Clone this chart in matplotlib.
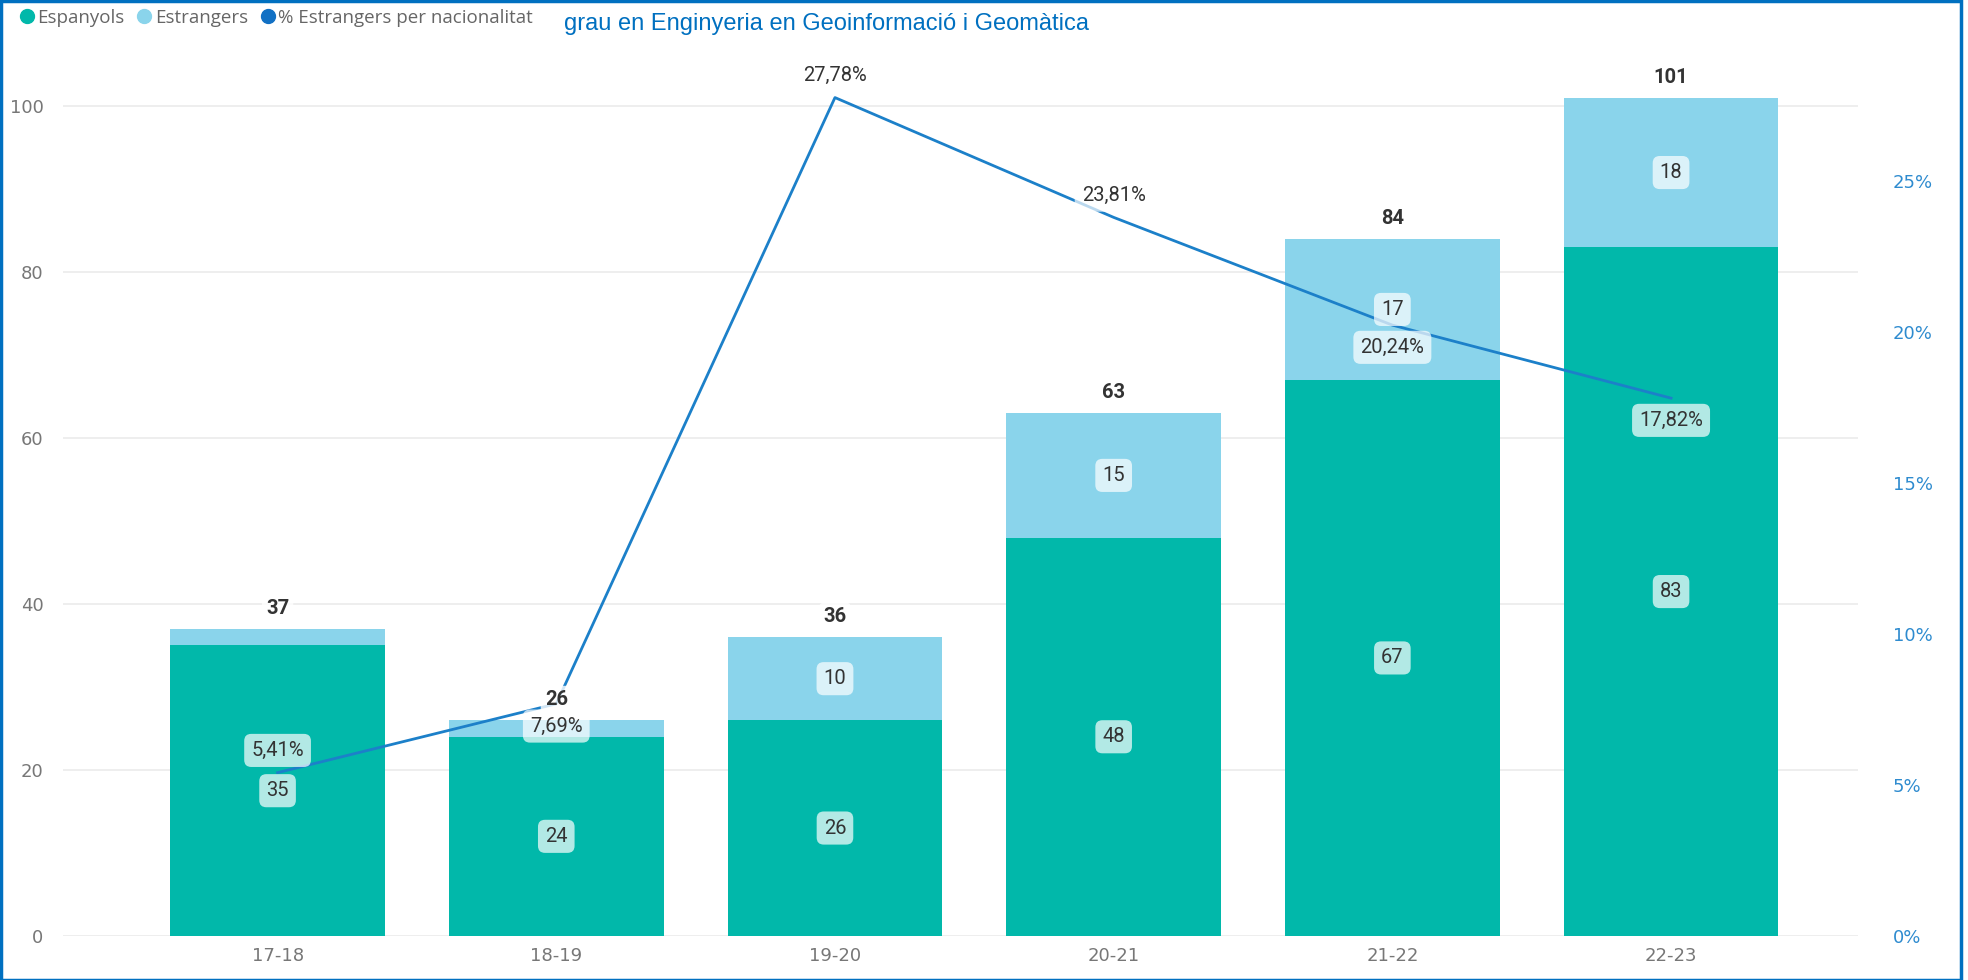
import matplotlib.pyplot as plt
import matplotlib.patches as patches
from matplotlib.lines import Line2D
from matplotlib.ticker import FuncFormatter
import numpy as np

# dades
cursos = ['17-18', '18-19', '19-20', '20-21', '21-22', '22-23']
espanyols = [35, 24, 26, 48, 67, 83]
estrangers = [2, 2, 10, 15, 17, 18]
totals = [37, 26, 36, 63, 84, 101]
pct_estrangers = [5.41, 7.69, 27.78, 23.81, 20.24, 17.82]

c_esp = '#01B8AA'
c_est = '#8AD4EB'
c_line = '#1C80C9'
c_txt = '#333333'

fig = plt.figure(figsize=(19.68, 9.8), dpi=100)
ax = fig.add_axes([0.032, 0.045, 0.912, 0.889])
ax2 = ax.twinx()

x = np.arange(len(cursos))
w = 0.77
ax.bar(x, espanyols, w, color=c_esp, zorder=2)
ax.bar(x, estrangers, w, bottom=espanyols, color=c_est, zorder=2)

ymax = 105
ax.set_ylim(0, ymax)
ax.set_xlim(-0.77, 5.67)
ax.set_yticks([0, 20, 40, 60, 80, 100])
ax.set_xticks(x)
ax.set_xticklabels(cursos)
ax.grid(axis='y', color='#ebebeb', linewidth=1.2, zorder=0)
ax.set_axisbelow(True)
ax.tick_params(axis='both', length=0, colors='#777777', labelsize=13)
ax.tick_params(axis='y', pad=14)
ax.tick_params(axis='x', pad=8)
for s in ax.spines.values():
    s.set_visible(False)
for s in ax2.spines.values():
    s.set_visible(False)

# eix secundari (percentatges)
ax2.set_ylim(0, ymax * 8.296 / (24.04 * 1.2551))
ax2.set_yticks([0, 5, 10, 15, 20, 25])
ax2.yaxis.set_major_formatter(FuncFormatter(lambda v, p: f'{v:.0f}%'))
ax2.tick_params(axis='y', length=0, colors='#2E8BCF', labelsize=13, pad=25)
ax2.plot(x, pct_estrangers, color=c_line, linewidth=2.0, zorder=4)

bbox = dict(boxstyle='round,pad=0.35,rounding_size=0.35', fc='white', ec='none', alpha=0.7)
bbox_tot = dict(boxstyle='round,pad=0.2', fc='white', ec='none', alpha=0.8)
lab_font = dict(family=['Roboto', 'DejaVu Sans'], fontsize=14.5, color=c_txt)

# etiquetes de les barres (dibuixades a ax2 perquè quedin sobre la línia)
for i in range(len(cursos)):
    ax2.text(x[i], espanyols[i] / 2, str(espanyols[i]), ha='center', va='center',
             transform=ax.transData, bbox=bbox, zorder=6, **lab_font)
    if estrangers[i] >= 5:
        ax2.text(x[i], espanyols[i] + estrangers[i] / 2, str(estrangers[i]), ha='center',
                 va='center', transform=ax.transData, bbox=bbox, zorder=6, **lab_font)
    ax2.annotate(str(totals[i]), (x[i], totals[i]), xycoords=ax.transData, xytext=(0, 15),
                 textcoords='offset points', ha='center', va='center', fontweight='bold',
                 bbox=bbox_tot, zorder=6, **lab_font)

# etiquetes de la línia
offs = [16, -16, 16, 16, -16, -16]
for i in range(len(cursos)):
    txt = f'{pct_estrangers[i]:.2f}%'.replace('.', ',')
    ax2.annotate(txt, (x[i], pct_estrangers[i]), xytext=(0, offs[i]), textcoords='offset points',
                 ha='center', va='center', bbox=bbox, zorder=7, **lab_font)

# llegenda
handles = [Line2D([], [], marker='o', linestyle='none', markersize=10, color=c_esp),
           Line2D([], [], marker='o', linestyle='none', markersize=10, color=c_est),
           Line2D([], [], marker='o', linestyle='none', markersize=10, color='#1170C4')]
fig.legend(handles, ['Espanyols', 'Estrangers', '% Estrangers per nacionalitat'],
           loc='upper left', bbox_to_anchor=(0.0, 1.008), ncol=3, frameon=False,
           handletextpad=0.0, columnspacing=0.5, handlelength=1.1,
           prop=dict(family=['Open Sans', 'DejaVu Sans'], size=13.5), labelcolor='#666666')

fig.text(0.42, 0.976, 'grau en Enginyeria en Geoinformació i Geomàtica', ha='center', va='center',
         color='#0070C0', fontsize=17, family=['Liberation Sans', 'DejaVu Sans'])

# vora
fig.patches.append(patches.Rectangle((0.0005, 0.0), 0.996, 0.9985, transform=fig.transFigure,
                                     fill=False, ec='#0070C0', lw=2.5))

fig.savefig('out.png', dpi=100)
